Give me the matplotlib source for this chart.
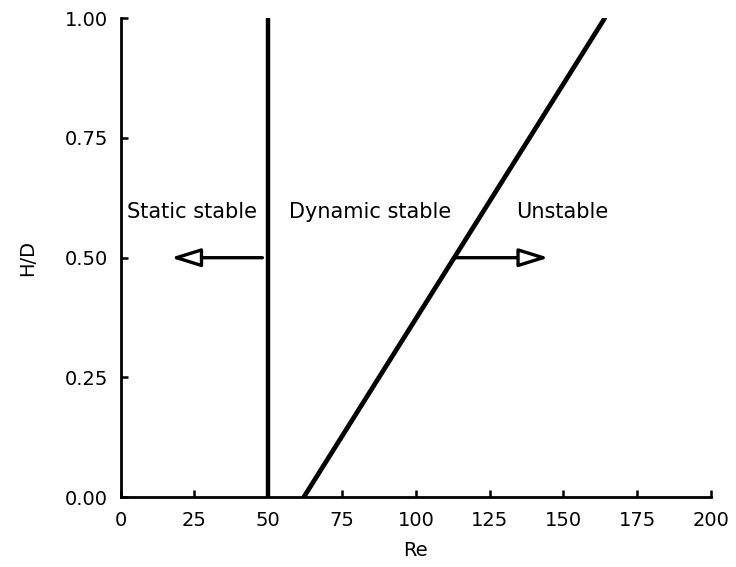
import matplotlib
matplotlib.use("Agg")
import matplotlib.pyplot as plt
from matplotlib.patches import FancyArrowPatch

# Stability boundaries in the (Re, H/D) plane
static_re = [50, 50]
static_hd = [0.0, 1.0]
dynamic_re = [62, 164]
dynamic_hd = [0.0, 1.0]

# Arrows pointing into the stable / unstable regions (tail, head) at H/D = 0.5
arrow_left = [(48, 0.5), (17, 0.5)]
arrow_right = [(113, 0.5), (145, 0.5)]

region_labels = ["Static stable", "Dynamic stable", "Unstable"]
label_x = [2, 57, 134]
label_y = 0.595

x_ticks = [0, 25, 50, 75, 100, 125, 150, 175, 200]
y_ticks = [0.00, 0.25, 0.50, 0.75, 1.00]

plt.rcParams['font.family'] = ['DejaVu Sans']

fig = plt.figure(figsize=(7.36, 5.67), dpi=100)
ax = fig.add_axes([0.164, 0.123, 0.802, 0.845])

ax.plot(static_re, static_hd, color='black', lw=3.2, solid_capstyle='butt')
ax.plot(dynamic_re, dynamic_hd, color='black', lw=3.4, solid_capstyle='round')

for (x0, y0), (x1, y1) in (arrow_left, arrow_right):
    ax.add_patch(FancyArrowPatch((x0, y0), (x1, y1),
                                 arrowstyle='-|>,head_length=0.9,head_width=0.28',
                                 mutation_scale=20, lw=2.4,
                                 shrinkA=0, shrinkB=0,
                                 facecolor='white', edgecolor='black'))

for txt, x in zip(region_labels, label_x):
    ax.text(x, label_y, txt, fontsize=15, ha='left', va='center')

ax.set_xlim(0, 200)
ax.set_ylim(0, 1.0)
ax.set_xticks(x_ticks)
ax.set_xticklabels([str(t) for t in x_ticks])
ax.set_yticks(y_ticks)
ax.set_yticklabels([f"{t:.2f}" for t in y_ticks])

for side in ('top', 'right'):
    ax.spines[side].set_visible(False)
for side in ('left', 'bottom'):
    ax.spines[side].set_linewidth(2.0)

ax.tick_params(direction='in', length=5, width=1.8, labelsize=14)
ax.tick_params(axis='x', pad=10)
ax.tick_params(axis='y', pad=9)
ax.set_xlabel("Re", fontsize=14, labelpad=8)
ax.set_ylabel("H/D", fontsize=14, labelpad=20)

fig.savefig("out.png", dpi=100)
